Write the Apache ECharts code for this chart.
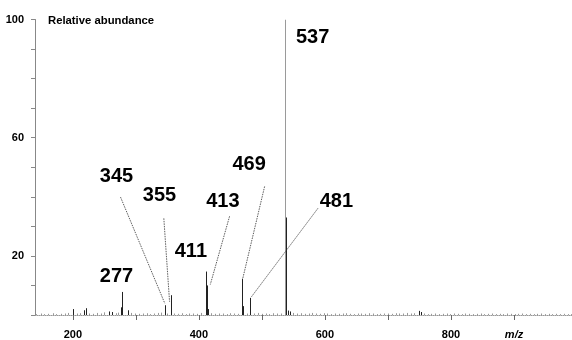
<!DOCTYPE html>
<html><head><meta charset="utf-8">
<script src="https://cdn.jsdelivr.net/npm/echarts@6/dist/echarts.min.js"></script>
<style>html,body{margin:0;padding:0;background:#fff}#c{width:572px;height:340px}</style>
</head><body><div id="c"></div>
<script>
// Main peaks (m/z, relative abundance)
const peakMz  = [200, 217, 221, 258, 262, 276.4, 277.4, 287, 346, 355, 411, 412.6, 414, 469, 470, 481.5, 537, 537.6, 538.3, 542, 545, 750, 752];
const peakVal = [2.0, 1.6, 2.3, 1.2, 1.0, 2.6, 7.8, 1.6, 3.3, 6.7, 14.7, 10.0, 2.0, 12.3, 3.0, 5.8, 100, 33, 6, 1.5, 1.2, 1.4, 1.0];
// Baseline noise sticks
const noiseMz  = [142,149,155,161,168,174,181,187,193,206,211,226,232,238,244,250,268,272,293,299,305,311,317,323,329,335,340,350,361,367,373,379,385,391,397,403,420,426,432,438,444,450,456,462,476,488,494,500,506,512,518,524,530,550,556,562,568,574,580,586,592,598,604,610,616,622,628,634,640,646,652,658,664,670,676,682,688,694,700,706,712,718,724,730,736,742,757,763,769,775,781,787,793,799,805,811,817,823,829,835,841,847,853,859,865,871,877,883,889,895,901,907,913,919,925,931,937,943,949,955,961,967,973,979,985,990];
const noiseVal = [0.3,0.5,0.3,0.4,0.6,0.3,0.4,0.5,0.7,0.5,0.6,0.5,0.4,0.7,0.5,0.9,0.6,0.8,0.7,0.5,0.4,0.5,0.6,0.3,0.5,0.7,0.8,0.5,0.5,0.4,0.6,0.3,0.5,0.5,0.4,0.7,0.6,0.4,0.5,0.5,0.3,0.6,0.5,0.4,0.5,0.5,0.7,0.4,0.5,0.3,0.6,0.5,0.5,0.7,0.5,0.6,0.4,0.5,0.7,0.5,0.4,0.6,0.5,0.3,0.5,0.4,0.5,0.6,0.4,0.3,0.5,0.5,0.4,0.6,0.5,0.3,0.4,0.5,0.5,0.4,0.6,0.5,0.5,0.7,0.5,0.6,0.5,0.3,0.4,0.5,0.3,0.4,0.5,0.3,0.5,0.4,0.3,0.5,0.4,0.3,0.4,0.5,0.3,0.4,0.5,0.3,0.4,0.3,0.5,0.4,0.3,0.4,0.5,0.3,0.4,0.3,0.4,0.5,0.3,0.4,0.3,0.4,0.3,0.4,0.3,0.3];
// Peak annotation labels
const labelText = ['537','345','355','469','413','481','411','277'];
const labelMz   = [580.5, 269.4, 337.6, 479.7, 438.1, 618.1, 387.3, 269.4];
const labelVal  = [94, 47.0, 40.6, 51.1, 38.3, 38.3, 21.5, 13.1];
// Leader lines: from (fromMz, fromVal) to (toMz, toVal)
const leadFromMz  = [275.7, 344.4, 448.7, 504.3, 588.9];
const leadFromVal = [39.9, 32.7, 33.4, 43.5, 36.1];
const leadToMz    = [346, 353.5, 418.1, 469.8, 483.2];
const leadToVal   = [3.9, 4.5, 10.3, 12.5, 6.1];
// Axis ticks / labels
const xTicks = [200,300,400,500,600,700,800,900];
const xLabels = [200,400,600,800,900];
const yLabels = [20,60,100];

const FONT = "'Liberation Sans', Arial, Helvetica, sans-serif";

const sticks = [];
noiseMz.forEach((m,i)=>sticks.push([m, noiseVal[i], 0]));
peakMz.forEach((m,i)=>sticks.push([m, peakVal[i], 1]));

const chart = echarts.init(document.getElementById('c'), null, {renderer:'canvas'});
chart.setOption({
  animation:false,
  backgroundColor:'#fff',
  title:{text:'Relative abundance', left:48, top:15, padding:0,
    textStyle:{fontFamily:FONT, fontSize:11.3, fontWeight:'bold', color:'#000'}},
  grid:{left:35, right:0, top:19.5, bottom:23.5},
  xAxis:{type:'value', min:140, max:992,
    axisLine:{show:true, lineStyle:{color:'#999', width:1, type:[1,1]}},
    axisTick:{show:true, length:5, customValues:xTicks, lineStyle:{color:'#666'}},
    axisLabel:{customValues:xLabels, margin:14, fontFamily:FONT, fontSize:11, fontWeight:'bold', color:'#000',
      formatter:v=> v===900 ? '{i|m/z}' : String(v),
      rich:{i:{fontStyle:'italic', fontWeight:'bold', fontFamily:FONT, fontSize:11, color:'#000'}}},
    splitLine:{show:false}},
  yAxis:{type:'value', min:0, max:100, interval:10,
    axisLine:{show:true, lineStyle:{color:'#888', width:1}},
    axisTick:{show:true, length:4, lineStyle:{color:'#888'}},
    axisLabel:{margin:11, fontFamily:FONT, fontSize:11, fontWeight:'bold', color:'#000',
      formatter:v=> yLabels.indexOf(v)>=0 ? String(v) : ''},
    splitLine:{show:false}},
  series:[
    {type:'custom', data:sticks, clip:true,
     renderItem:function(params, api){
       const m = api.value(0), v = api.value(1), main = api.value(2);
       const p0 = api.coord([m,0]); const p1 = api.coord([m,v]);
       const x = Math.round(p0[0]) + 0.5;
       let color = main ? '#222' : '#999';
       if (v >= 90) color = '#9a9a9a';
       return {type:'line', shape:{x1:x, y1:p0[1], x2:x, y2:p1[1]},
         style:{stroke:color, lineWidth:1}};
     },
     z:3},
    {type:'custom', data:leadFromMz.map((m,i)=>[m, leadFromVal[i], leadToMz[i], leadToVal[i]]),
     renderItem:function(params, api){
       const a = api.coord([api.value(0), api.value(1)]);
       const b = api.coord([api.value(2), api.value(3)]);
       return {type:'line', shape:{x1:a[0], y1:a[1], x2:b[0], y2:b[1]},
         style:{stroke:'#333', lineWidth:0.8, lineDash:[1.5,1]}};
     }, z:4},
    {type:'scatter', symbolSize:0, z:5,
     data:labelMz.map((m,i)=>({value:[m, labelVal[i]], name:labelText[i]})),
     label:{show:true, position:'inside', formatter:p=>p.name,
       fontFamily:FONT, fontSize:20, fontWeight:'bold', color:'#000', opacity:1}}
  ]
});
</script></body></html>
